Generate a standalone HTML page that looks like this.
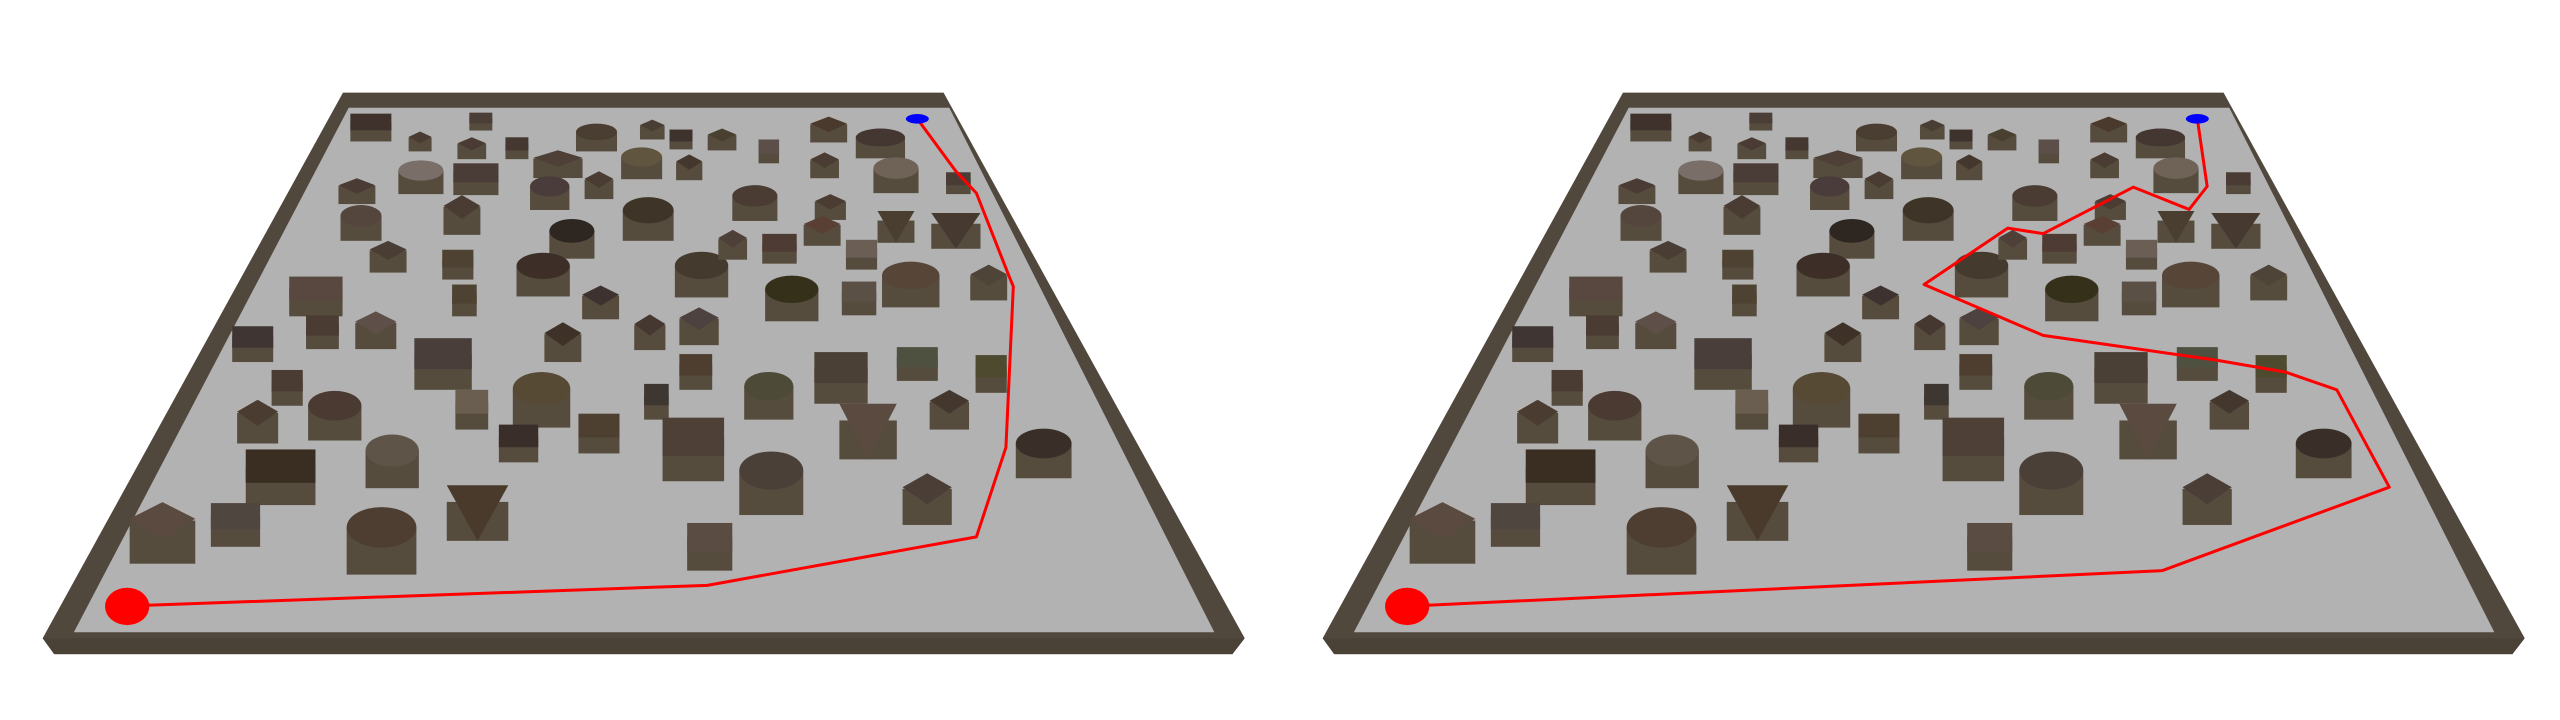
<!DOCTYPE html>
<html><head><meta charset="utf-8"><style>html,body{margin:0;padding:0;background:#fff}svg{display:block}</style></head>
<body>
<svg id="scene" width="2560" height="720" viewBox="0 0 2560 720" xmlns="http://www.w3.org/2000/svg"></svg>
<script>
const NS='http://www.w3.org/2000/svg';
// obstacles: [x, y, w, h, topColor, shape] in board units
const obstacles=[
[452,170,50,70,'#3f322d','r'],[512,205,28,50,'#4a3c33','d'],[586,155,28,45,'#4a3e36','r'],[575,222,35,55,'#4a3c34','d'],
[630,222,28,55,'#443830','r'],[680,262,60,70,'#4e4036','d'],[727,195,50,70,'#4a3e32','e'],[795,175,30,50,'#4a3e34','d'],
[830,200,28,50,'#3e322c','r'],[880,200,35,55,'#4a4030','d'],[937,230,25,60,'#5c4e48','r'],[1010,175,45,65,'#4a3a2e','d'],
[1073,210,60,75,'#443630','e'],[513,295,55,85,'#7a6e68','e'],[580,300,55,80,'#4a3c36','r'],[435,330,45,65,'#4a3c34','d'],
[670,335,48,85,'#4a3c3a','e'],[730,315,35,70,'#4a3c32','d'],[782,260,50,80,'#60563f','e'],[840,270,32,65,'#44382e','d'],
[1005,265,35,65,'#4a3c32','d'],[1092,290,55,90,'#6f6256','e'],[1168,310,30,55,'#4a3c34','r'],[920,360,55,90,'#4a3c32','e'],
[1012,370,38,65,'#4a3c32','d'],[440,410,50,90,'#54463c','e'],[563,390,45,100,'#4a3c32','d'],[790,400,62,110,'#3e3428','e'],
[697,450,55,100,'#2e2620','e'],[1002,430,45,75,'#5a4034','d'],[1092,420,45,80,'#4a3e30','t'],[1165,430,60,90,'#463a30','t'],
[473,495,45,80,'#4a3e34','d'],[558,515,38,75,'#4e4232','r'],[662,540,65,110,'#3d2f28','e'],[855,540,65,115,'#443a2e','e'],
[893,465,35,75,'#4e4038','d'],[950,475,42,75,'#4e3c34','r'],[1050,490,38,75,'#6a5e55','r'],[1110,565,70,115,'#574538','e'],
[1205,560,45,90,'#4e4438','d'],[965,600,65,115,'#353019','e'],[1047,600,42,85,'#5a5046','r'],[385,595,65,100,'#584840','r'],
[566,605,30,80,'#4e4232','r'],[732,610,45,85,'#3e3230','d'],[852,670,48,95,'#4e4240','d'],[792,685,38,90,'#443830','d'],
[393,685,40,85,'#4a3c32','r'],[458,680,50,95,'#5e5048','d'],[308,715,50,90,'#3f3533','r'],[686,710,45,100,'#3e3228','d'],
[540,765,70,130,'#4a3e3a','r'],[350,825,38,90,'#4a3c32','r'],[408,895,65,125,'#4a3a32','e'],[314,910,50,110,'#4a3c30','d'],
[575,880,40,100,'#6a5e50','r'],[660,855,70,140,'#574a34','e'],[800,860,30,90,'#3e3630','r'],[848,785,40,90,'#4e3e30','r'],
[937,845,60,120,'#4e4a38','e'],[1025,800,65,130,'#4a4036','r'],[1118,765,50,85,'#4e5040','r'],[1208,790,38,95,'#4e4a30','r'],
[1157,880,48,100,'#44382e','d'],[730,940,50,100,'#4e4030','r'],[632,965,48,95,'#3a2e2a','r'],[845,980,75,160,'#4e4036','r'],
[1058,935,70,140,'#5a4a40','t'],[1272,990,68,125,'#3a2f28','e'],[342,1050,85,140,'#3a2e22','r'],[478,1010,65,135,'#5e5448','e'],
[940,1065,78,160,'#4a4038','e'],[582,1140,75,140,'#4a3a2c','t'],[1130,1105,60,130,'#4a3e36','d'],[198,1190,80,155,'#5a4a40','d'],
[287,1170,60,110,'#504640','r'],[465,1210,85,170,'#4e3e32','e'],[865,1225,55,120,'#5a4c42','r']];
const pathXLeft=[180,862,1190,1226,1235,1230,1190,1165,1118];
const pathYLeft=[1372,1322,1200,975,570,545,335,280,148];
const pathXRight=[180,1075,1352,1288,1225,1140,930,785,887,930,1040,1108,1130,1118];
const pathYRight=[1372,1285,1075,830,785,755,693,565,423,437,320,376,318,148];
const boards=[{ox:0,px:pathXLeft,py:pathYLeft,name:'left'},{ox:1280,px:pathXRight,py:pathYRight,name:'right'}];
const svg=document.getElementById('scene');
function mk(tag,attrs,parent){const e=document.createElementNS(NS,tag);for(const k in attrs)e.setAttribute(k,attrs[k]);parent.appendChild(e);return e;}
boards.forEach(b=>{
  const g=mk('g',{transform:`translate(${b.ox},60) scale(0.8205,0.3974)`},svg);
  
  
  const wall=mk('polygon',{points:'418,82 1150,82 1517,1455 1502,1495 66,1495 52,1455',fill:'#51483d'},g);
  
  
  const front=mk('polygon',{points:'52,1455 1517,1455 1502,1495 66,1495',fill:'#4a4237'},g);
  
  
  const floor=mk('polygon',{points:'425,120 1157,120 1480,1440 90,1440',fill:'#b2b2b2'},g);
  
  
  obstacles.forEach((o,i)=>{
    const [x,y,w,h,c,s]=o;
    const og=mk('g',{},g);
    
    
    const topH=h*0.6, x0=x-w/2, y0=y-h/2;
    mk('rect',{x:x0,y:y0+topH*0.5,width:w,height:h-topH*0.5,fill:'#564c3e'},og);
    if(s==='e'){mk('ellipse',{cx:x,cy:y0+topH/2,rx:w/2,ry:topH/2,fill:c},og);}
    else if(s==='t'){mk('polygon',{points:`${x0},${y0} ${x0+w},${y0} ${x},${y0+h}`,fill:c},og);}
    else if(s==='d'){mk('polygon',{points:`${x},${y0} ${x0+w},${y0+topH*0.45} ${x},${y0+topH} ${x0},${y0+topH*0.45}`,fill:c},og);}
    else {mk('rect',{x:x0,y:y0,width:w,height:topH,fill:c},og);}
  });
  const pts=b.px.map((v,i)=>v+','+b.py[i]).join(' ');
  const pl=mk('polyline',{points:pts,fill:'none',stroke:'#ff0000','stroke-width':3,'vector-effect':'non-scaling-stroke','stroke-linejoin':'round'},g);
  
  
  const st=mk('ellipse',{cx:155,cy:1375,rx:27,ry:47,fill:'#ff0000'},g);
  
  
  const gl=mk('ellipse',{cx:1118,cy:148,rx:14,ry:12,fill:'#0000ff'},g);
  
  
});
</script>
</body></html>
